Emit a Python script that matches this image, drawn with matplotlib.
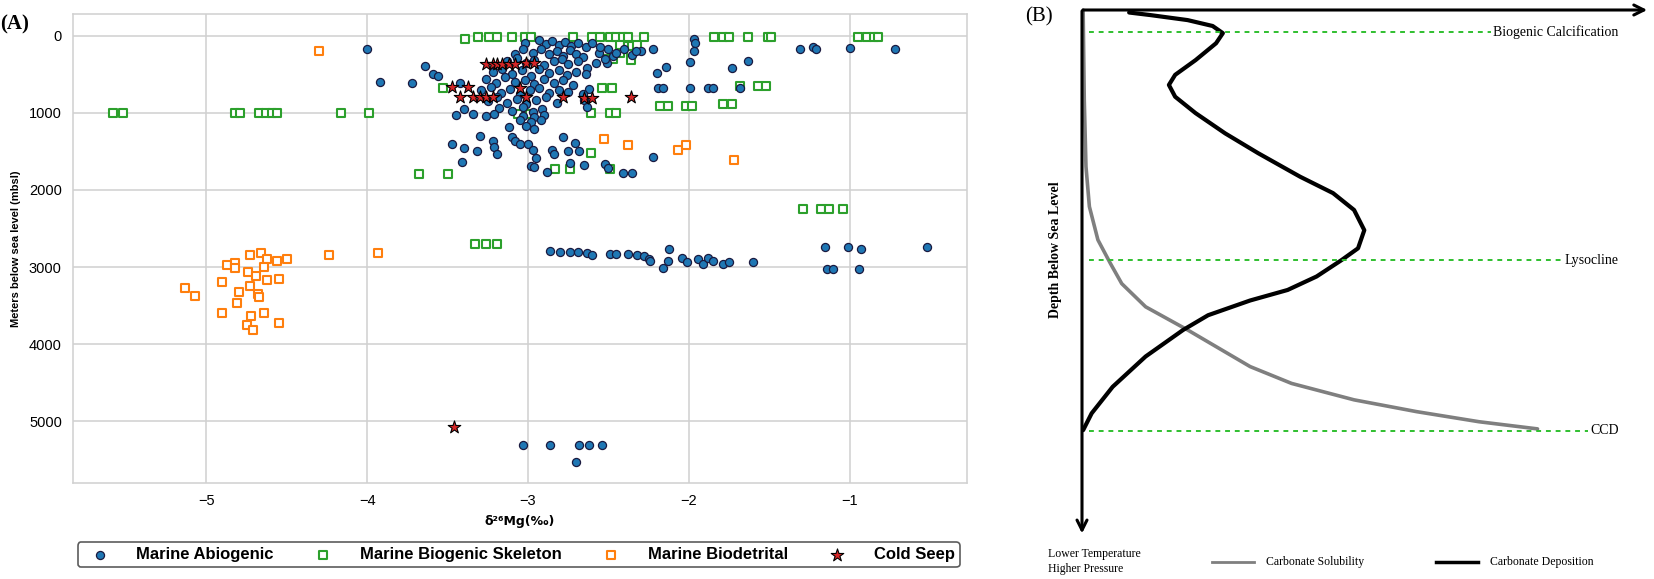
import matplotlib
matplotlib.use("Agg")
import matplotlib.pyplot as plt

plt.rcParams['font.family'] = ['Liberation Sans', 'DejaVu Sans']

# ---- panel A data (delta26Mg, depth m) ----
abio_x = [-4.00, -3.92, -3.72, -3.64, -3.59, -3.56, -3.42,
          -3.45, -3.40, -3.34, -3.26, -3.47, -3.40, -3.41, -3.32, -3.30,
          # dense cluster
          -3.02, -2.93, -2.89, -2.85, -2.81, -2.77, -2.73, -2.69, -2.64, -2.60,
          -3.08, -3.03, -2.97, -2.92, -2.87, -2.82, -2.78, -2.74, -2.70, -2.66, -2.56, -2.47,
          -3.13, -3.07, -3.01, -2.96, -2.90, -2.84, -2.79, -2.75, -2.69, -2.63, -2.58, -2.51,
          -3.22, -3.16, -3.10, -3.04, -2.98, -2.93, -2.87, -2.81, -2.76, -2.70, -2.64,
          -3.26, -3.20, -3.14, -3.08, -3.02, -2.96, -2.90, -2.84, -2.78, -2.72, -2.62,
          -3.29, -3.23, -3.17, -3.11, -3.05, -2.99, -2.93, -2.87, -2.81, -2.75, -2.66,
          -3.25, -3.19, -3.13, -3.07, -3.01, -2.95, -2.89, -2.82, -2.65,
          -3.18, -3.10, -3.03, -2.97, -2.91, -2.63,
          -3.21, -3.03, -2.96, -2.90,
          -2.55, -2.50, -2.45, -2.40, -2.35, -2.30, -2.52,
          -3.05, -2.98, -2.92, -3.12, -3.01, -2.96,
          -3.22, -3.21, -3.19, -3.10, -3.08, -3.05, -3.00, -2.97, -2.95,
          -2.98, -2.96, -2.88, -2.85, -2.84, -2.78, -2.75, -2.74, -2.71,
          -2.68, -2.65, -2.52, -2.50, -2.41, -2.35, -2.22,
          -2.22, -1.97, -1.96, -1.97, -2.33, -1.99, -1.63, -1.73, -2.14, -2.20,
          -1.31, -1.23, -1.21, -1.00, -0.72,
          -2.19, -2.16, -1.99, -1.88, -1.85, -1.68,
          -2.86, -2.80, -2.74, -2.69, -2.63, -2.60, -2.49, -2.45, -2.38,
          -2.32, -2.28, -2.25, -2.24, -2.16, -2.13, -2.12, -2.04, -2.01,
          -1.94, -1.91, -1.88, -1.85, -1.79, -1.75, -1.60,
          -1.15, -1.01, -0.93, -0.52, -1.14, -1.10, -0.94,
          -3.03, -2.86, -2.68, -2.62, -2.54, -2.70]
abio_y = [170, 600, 620, 390, 500, 530, 610,
          1030, 950, 1020, 1040, 1400, 1460, 1640, 1490, 1300,
          90, 60, 110, 70, 120, 80, 130, 100, 150, 90,
          240, 170, 220, 180, 240, 200, 260, 190, 240, 280, 230, 260,
          330, 290, 360, 310, 380, 330, 300, 370, 330, 420, 350, 350,
          470, 430, 500, 450, 520, 430, 480, 450, 510, 470, 500,
          560, 610, 540, 600, 570, 630, 560, 610, 580, 640, 690,
          700, 660, 740, 690, 760, 710, 680, 750, 700, 730, 760,
          850, 800, 870, 820, 890, 840, 800, 870, 840,
          940, 980, 930, 990, 950, 930,
          1010, 1040, 1060, 1030,
          150, 180, 220, 170, 250, 200, 300,
          1100, 1120, 1100, 1190, 1170, 1210,
          1360, 1450, 1540, 1320, 1370, 1410, 1410, 1480, 1590,
          1690, 1700, 1770, 1480, 1540, 1320, 1500, 1650, 1390,
          1500, 1680, 1670, 1710, 1780, 1780, 1570,
          170, 40, 100, 200, 200, 340, 330, 425, 410, 480,
          180, 150, 180, 160, 180,
          680, 680, 680, 680, 680, 680,
          2795, 2800, 2800, 2810, 2820, 2840, 2830, 2830, 2830,
          2840, 2860, 2900, 2920, 3010, 2920, 2760, 2880, 2930,
          2890, 2960, 2880, 2920, 2960, 2940, 2940,
          2740, 2740, 2760, 2740, 3020, 3020, 3020,
          5310, 5310, 5310, 5310, 5310, 5530]

skel_x = [-5.58, -5.52, -4.82, -4.79, -4.67, -4.63, -4.59, -4.56, -4.16, -3.99,
          -3.68, -3.50, -3.39, -3.31, -3.24, -3.19, -3.53,
          -3.33, -3.26, -3.19,
          -3.10, -3.02, -2.98, -2.72, -2.60, -2.55, -2.49, -2.45, -2.41, -2.38, -2.28,
          -2.43, -2.38, -2.35, -2.32, -2.50, -2.47, -2.43, -2.36, -2.36,
          -2.54, -2.48, -3.06, -2.99, -2.61, -2.49, -2.45, -2.61,
          -2.83, -2.74, -2.49,
          -2.18, -2.13, -2.02, -1.98, -1.79, -1.73,
          -1.68, -1.57, -1.52,
          -1.84, -1.79, -1.75, -1.63, -1.51, -1.49,
          -0.95, -0.89, -0.85, -0.82,
          -1.29, -1.18, -1.13, -1.04]
skel_y = [1000, 1000, 1000, 1000, 1000, 1000, 1000, 1000, 1000, 1000,
          1800, 1800, 40, 20, 20, 20, 680,
          2700, 2700, 2700,
          20, 20, 20, 20, 20, 20, 20, 20, 20, 20, 20,
          120, 130, 130, 120, 300, 300, 230, 240, 310,
          680, 680, 1010, 1010, 1000, 1000, 1000, 1520,
          1730, 1730, 1730,
          910, 910, 910, 910, 890, 890,
          650, 650, 650,
          20, 20, 20, 20, 20, 20,
          20, 20, 20, 20,
          2250, 2250, 2250, 2250]

detr_x = [-4.30, -5.13, -5.07, -4.90, -4.87, -4.82, -4.82, -4.73, -4.66, -4.62,
          -4.56, -4.50, -4.64, -4.74, -4.69, -4.62, -4.55, -4.73, -4.80, -4.68,
          -4.67, -4.81, -4.90, -4.72, -4.75, -4.71, -4.64, -4.55, -4.24, -3.93,
          -2.53, -2.38, -2.07, -2.02, -1.72]
detr_y = [195, 3270, 3370, 3200, 2980, 2950, 3010, 2840, 2820, 2890,
          2920, 2890, 3000, 3060, 3110, 3170, 3160, 3240, 3330, 3350,
          3390, 3470, 3600, 3640, 3750, 3810, 3600, 3720, 2840, 2820,
          1340, 1420, 1480, 1420, 1610]

seep_x = [-3.26, -3.22, -3.19, -3.16, -3.12, -3.08, -3.01, -2.96,
          -3.47, -3.37, -3.42, -3.34, -3.30, -3.26, -3.22, -3.05, -3.01,
          -2.78, -2.65, -2.60, -2.36, -3.46]
seep_y = [370, 370, 370, 370, 370, 370, 350, 350,
          660, 660, 800, 800, 800, 800, 800, 680, 800,
          800, 810, 810, 800, 5070]

x_ticks = [-5, -4, -3, -2, -1]
y_ticks = [0, 1000, 2000, 3000, 4000, 5000]

# ---- panel B schematic (x: carbonate, 0..1 ; depth: 0 top .. 1 = CCD) ----
depo_x = [0.083, 0.120, 0.186, 0.230, 0.248, 0.236, 0.200, 0.164, 0.153, 0.164,
          0.200, 0.252, 0.310, 0.384, 0.442, 0.479, 0.497, 0.486, 0.457, 0.413,
          0.362, 0.296, 0.222, 0.178, 0.112, 0.054, 0.017, 0.002]
depo_y = [0.006, 0.012, 0.024, 0.038, 0.055, 0.079, 0.119, 0.154, 0.178, 0.206,
          0.245, 0.293, 0.340, 0.396, 0.435, 0.475, 0.523, 0.566, 0.594, 0.633,
          0.665, 0.690, 0.725, 0.760, 0.823, 0.895, 0.958, 0.998]
solu_x = [0.002, 0.004, 0.007, 0.013, 0.028, 0.050, 0.070, 0.112, 0.186, 0.296,
          0.369, 0.479, 0.589, 0.699, 0.802]
solu_y = [0.000, 0.214, 0.372, 0.467, 0.546, 0.602, 0.650, 0.705, 0.760, 0.847,
          0.887, 0.926, 0.954, 0.978, 0.995]
level_names = ["Biogenic Calcification", "Lysocline", "CCD"]
level_depth = [0.052, 0.594, 1.0]

fig = plt.figure(figsize=(16.54, 5.79), dpi=100)

# ---------------- panel A ----------------
ax = fig.add_axes([0.0441, 0.1658, 0.5405, 0.81])
ax.scatter(abio_x, abio_y, s=34, c='#1f77b4', edgecolors='#1a1a40', linewidths=0.9,
           label='Marine Abiogenic', zorder=3)
ax.scatter(skel_x, skel_y, s=32, marker='s', facecolors='white', edgecolors='#2ca02c',
           linewidths=1.5, label='Marine Biogenic Skeleton', zorder=2)
ax.scatter(detr_x, detr_y, s=32, marker='s', facecolors='white', edgecolors='#ff7f0e',
           linewidths=1.5, label='Marine Biodetrital', zorder=2)
ax.scatter(seep_x, seep_y, s=90, marker='*', c='#d62728', edgecolors='black',
           linewidths=0.8, label='Cold Seep', zorder=4)
ax.set_xlim(-5.83, -0.27)
ax.set_ylim(5800, -280)
ax.set_xticks(x_ticks)
ax.set_xticklabels(['\u2212%d' % abs(t) for t in x_ticks])
ax.set_yticks(y_ticks)
ax.tick_params(length=0, labelsize=10.5, pad=8)
ax.grid(True, color='#d0d0d0', lw=1.1)
ax.set_axisbelow(True)
for sp in ax.spines.values():
    sp.set_color('#d0d0d0')
    sp.set_linewidth(1.1)
ax.set_ylabel('Meters below sea level (mbsl)', fontsize=8, fontweight='bold', labelpad=6)
ax.set_xlabel('\u03b4\u00b2\u2076Mg(\u2030)', fontsize=9, fontweight='bold', labelpad=5,
              family=['DejaVu Sans'])
fig.text(0.0, 0.975, '(A)', fontsize=15, fontweight='bold', family='Liberation Serif',
         va='top', ha='left')

handles, labels = ax.get_legend_handles_labels()
leg = fig.legend(handles, labels, loc='center', ncol=4, mode='expand',
                 bbox_to_anchor=(0.0472, 0.016, 0.533, 0.052),
                 prop={'size': 12, 'weight': 'bold'}, frameon=True, fancybox=True,
                 edgecolor='#333333', handletextpad=1.2, borderaxespad=0,
                 borderpad=0.3)
leg.get_frame().set_linewidth(1.2)

# ---------------- panel B ----------------
bx = fig.add_axes([1082 / 1654, 1 - 431 / 579, 568 / 1654, 421 / 579])
bx.set_xlim(0, 1)
bx.set_ylim(1, 0)
bx.axis('off')
bx.plot(solu_x, solu_y, color='#7f7f7f', lw=2.6, solid_capstyle='round',
        solid_joinstyle='round', clip_on=False)
bx.plot(depo_x, depo_y, color='black', lw=3.0, solid_capstyle='round',
        solid_joinstyle='round', clip_on=False)
bx.annotate('', xy=(1.0, 0), xytext=(-0.003, 0),
            arrowprops=dict(arrowstyle='->', lw=2.2, color='black', mutation_scale=18),
            annotation_clip=False)
bx.annotate('', xy=(0, 1.25), xytext=(0, -0.004),
            arrowprops=dict(arrowstyle='->', lw=2.2, color='black', mutation_scale=18),
            annotation_clip=False)

renderer = fig.canvas.get_renderer()
for name, d in zip(level_names, level_depth):
    t = bx.text(0.945, d, name, ha='right', va='center', fontsize=10,
                family='Liberation Serif')
    # dashed line runs up to the start of its label
    x0_px = t.get_window_extent(renderer).x0
    x_end = bx.transData.inverted().transform((x0_px, 0))[0] - 0.004
    bx.plot([0.012, x_end], [d, d], ls=(0, (2.5, 2.5)), color='#2fbf2f', lw=1.4,
            clip_on=False)

bx.text(-0.046, 0.57, 'Depth Below Sea Level', rotation=90, ha='center', va='center',
        fontsize=10, fontweight='bold', family='Liberation Serif')
bx.text(-0.06, 1.31, 'Lower Temperature\nHigher Pressure', ha='left', va='center',
        fontsize=8.5, family='Liberation Serif', linespacing=1.25)
bx.plot([0.229, 0.303], [1.31, 1.31], color='#7f7f7f', lw=2, clip_on=False)
bx.text(0.324, 1.31, 'Carbonate Solubility', ha='left', va='center', fontsize=8.5,
        family='Liberation Serif')
bx.plot([0.624, 0.698], [1.31, 1.31], color='black', lw=2.5, clip_on=False)
bx.text(0.718, 1.31, 'Carbonate Deposition', ha='left', va='center', fontsize=8.5,
        family='Liberation Serif')
fig.text(1025 / 1654, 0.988, '(B)', fontsize=15, family='Liberation Serif',
         va='top', ha='left')

fig.savefig('out.png', dpi=100)
